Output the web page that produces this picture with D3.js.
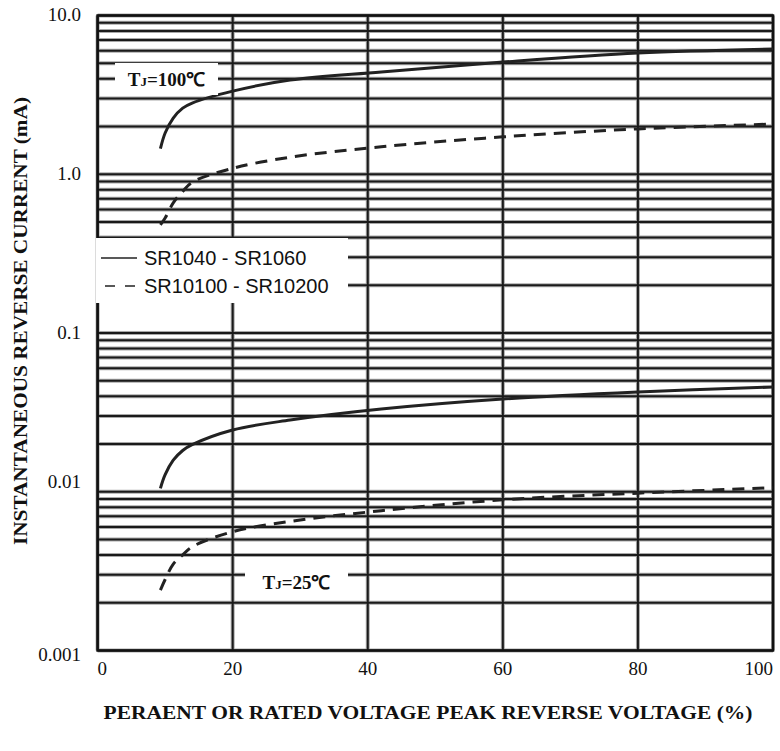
<!DOCTYPE html>
<html lang="en">
<head>
    <meta charset="UTF-8">
    <title>Instantaneous Reverse Current</title>
    <style>
        body { margin: 0; background: #fff; }
        .tick { font-family: "Liberation Serif", "Times New Roman", serif; font-size: 19px; fill: #111; }
        .title { font-family: "Liberation Serif", "Times New Roman", serif; font-size: 19px; font-weight: bold; fill: #111; }
        .legend { font-family: "Liberation Sans", Arial, sans-serif; font-size: 20px; fill: #111; }
    </style>
</head>
<body>
    <svg id="chart" width="780" height="751"></svg>
    <script src="https://d3js.org/d3.v7.min.js"></script>
    <script>
        // percent of rated peak reverse voltage
        var pct = [9.3, 10, 11.2, 12.6, 14, 20, 28.5, 42, 60, 80, 100];

        // reverse current (mA)
        var sr1060_100 = [1.45, 1.82, 2.26, 2.61, 2.81, 3.34, 3.92, 4.41, 5.09, 5.80, 6.15];
        var sr10200_100 = [0.48, 0.53, 0.66, 0.78, 0.89, 1.09, 1.28, 1.49, 1.72, 1.93, 2.07];
        var sr1060_25 = [0.0105, 0.0128, 0.0158, 0.0182, 0.0198, 0.0245, 0.0283, 0.0332, 0.0384, 0.0425, 0.0457];
        var sr10200_25 = [0.0024, 0.0028, 0.0035, 0.0040, 0.0045, 0.0056, 0.0065, 0.0076, 0.0089, 0.0098, 0.0106];

        var xTicks = [0, 20, 40, 60, 80, 100];
        var yTicks = [10, 1, 0.1, 0.01, 0.001];
        var yTickLabels = ["10.0", "1.0", "0.1", "0.01", "0.001"];
        var legendLabels = ["SR1040 - SR1060", "SR10100 - SR10200"];

        var plotLeft = 97.6, plotRight = 773, plotTop = 15.5, plotBottom = 650.5;

        var svg = d3.select("#chart");

        var x = d3.scaleLinear().domain([0, 100]).range([plotLeft, plotRight]);
        var y = d3.scaleLog().domain([0.001, 10]).range([plotBottom, plotTop]);

        // horizontal grid: 1..9 in every decade
        var hLines = [];
        [0.001, 0.01, 0.1, 1].forEach(function(d) {
            for (var i = 1; i <= 9; i++) hLines.push(d * i);
        });
        hLines.push(10);

        var grid = svg.append("g");
        // grey halo then dark line, like the scanned sheet
        [["#a8a8a8", 4], ["#1a1a1a", 2]].forEach(function(s) {
            grid.selectAll(null)
                .data(hLines)
                .enter().append("line")
                .attr("x1", plotLeft).attr("x2", plotRight)
                .attr("y1", function(d) { return y(d); })
                .attr("y2", function(d) { return y(d); })
                .attr("stroke", s[0])
                .attr("stroke-width", s[1]);

            grid.selectAll(null)
                .data(xTicks)
                .enter().append("line")
                .attr("x1", function(d) { return x(d); })
                .attr("x2", function(d) { return x(d); })
                .attr("y1", plotTop).attr("y2", plotBottom)
                .attr("stroke", s[0])
                .attr("stroke-width", s[1]);
        });

        svg.append("rect")
            .attr("x", plotLeft).attr("y", plotTop)
            .attr("width", plotRight - plotLeft).attr("height", plotBottom - plotTop)
            .attr("fill", "none")
            .attr("stroke", "#111")
            .attr("stroke-width", 2.5);

        // curves
        var line = d3.line()
            .x(function(d) { return x(d[0]); })
            .y(function(d) { return y(d[1]); })
            .curve(d3.curveCatmullRom.alpha(0.5));

        var series = [
            { values: sr1060_100, dash: null },
            { values: sr10200_100, dash: "12,8" },
            { values: sr1060_25, dash: null },
            { values: sr10200_25, dash: "12,8" }
        ];

        series.forEach(function(s) {
            svg.append("path")
                .datum(d3.zip(pct, s.values))
                .attr("d", line)
                .attr("fill", "none")
                .attr("stroke", "#222")
                .attr("stroke-width", 3)
                .attr("stroke-dasharray", s.dash);
        });

        // temperature labels
        function tjLabel(x0, y0, w, h, temp) {
            svg.append("rect")
                .attr("x", x0).attr("y", y0)
                .attr("width", w).attr("height", h)
                .attr("fill", "#fff");
            var t = svg.append("text")
                .attr("class", "title")
                .attr("x", x0 + w / 2)
                .attr("y", y0 + h / 2)
                .attr("dy", "0.35em")
                .attr("text-anchor", "middle");
            t.append("tspan").text("T");
            t.append("tspan").style("font-size", "13px").text("J");
            t.append("tspan").text("=" + temp + "\u2103");
        }
        tjLabel(115, 63, 103, 32, 100);
        tjLabel(245, 568, 103, 29, 25);

        // legend
        svg.append("rect")
            .attr("x", 96).attr("y", 238)
            .attr("width", 252).attr("height", 65)
            .attr("fill", "#fff");

        var legend = svg.selectAll(".legend-item")
            .data(legendLabels)
            .enter().append("g")
            .attr("class", "legend-item")
            .attr("transform", function(d, i) { return "translate(0," + (258 + i * 28) + ")"; });

        legend.append("line")
            .attr("x1", function(d, i) { return i ? 105 : 101; })
            .attr("x2", 137)
            .attr("stroke", "#222")
            .attr("stroke-width", 1.3)
            .attr("stroke-dasharray", function(d, i) { return i ? "10,10" : null; });

        legend.append("text")
            .attr("class", "legend")
            .attr("x", 144)
            .attr("dy", "0.35em")
            .text(function(d) { return d; });

        // y tick labels
        svg.selectAll(".ylab")
            .data(yTicks)
            .enter().append("text")
            .attr("class", "tick")
            .attr("x", 81)
            .attr("y", function(d) { return y(d); })
            .attr("dy", function(d, i) { return i == 3 ? "-0.2em" : (i == 4 ? "0.55em" : "0.3em"); })
            .attr("text-anchor", "end")
            .text(function(d, i) { return yTickLabels[i]; });

        // x tick labels
        svg.selectAll(".xlab")
            .data(xTicks)
            .enter().append("text")
            .attr("class", "tick")
            .attr("x", function(d) { return x(d); })
            .attr("y", 675)
            .attr("text-anchor", function(d) { return d == 0 ? "start" : (d == 100 ? "end" : "middle"); })
            .text(function(d) { return d; });

        // axis titles
        svg.append("text")
            .attr("class", "title")
            .attr("transform", "translate(27,321) rotate(-90)")
            .attr("text-anchor", "middle")
            .attr("textLength", 448)
            .attr("lengthAdjust", "spacingAndGlyphs")
            .text("INSTANTANEOUS REVERSE CURRENT (mA)");

        svg.append("text")
            .attr("class", "title")
            .attr("x", 428)
            .attr("y", 719)
            .attr("text-anchor", "middle")
            .attr("textLength", 649)
            .attr("lengthAdjust", "spacingAndGlyphs")
            .text("PERAENT OR RATED VOLTAGE PEAK REVERSE VOLTAGE (%)");
    </script>
</body>
</html>
